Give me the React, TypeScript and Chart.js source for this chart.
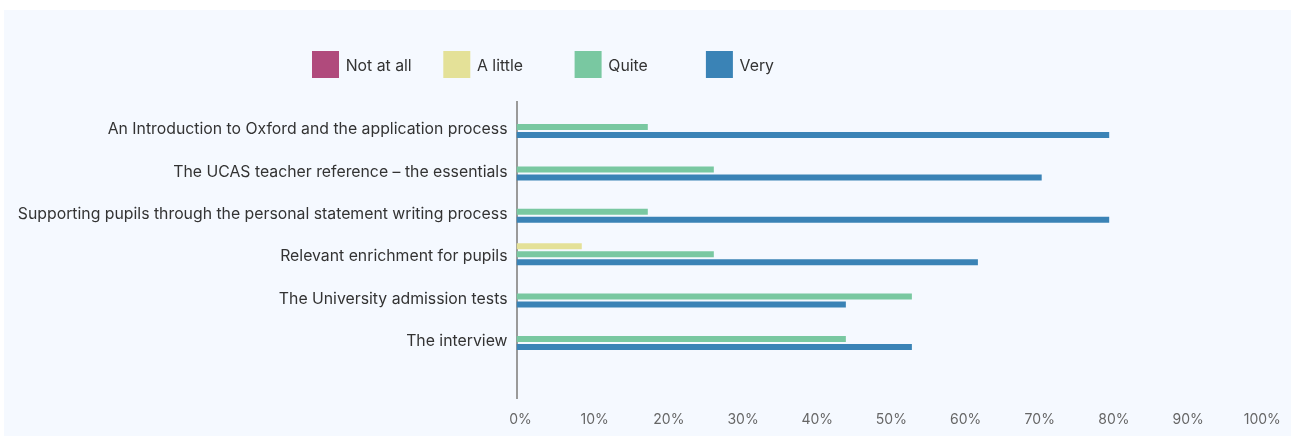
import React, { useEffect, useRef } from "react";
import { Chart, registerables } from "chart.js";

Chart.register(...registerables);

const categories = [
  "An Introduction to Oxford and the application process",
  "The UCAS teacher reference – the essentials",
  "Supporting pupils through the personal statement writing process",
  "Relevant enrichment for pupils",
  "The University admission tests",
  "The interview",
  "",
];

const seriesNames = ["Not at all", "A little", "Quite", "Very"];
const notAtAll = [0, 0, 0, 0, 0, 0, null];
const aLittle = [0, 0, 0, 8.8, 0, 0, null];
const quite = [17.7, 26.6, 17.7, 26.6, 53.3, 44.4, null];
const very = [79.9, 70.8, 79.9, 62.2, 44.4, 53.3, null];
const seriesColors = ["#b04a7c", "#e4e198", "#79c8a1", "#3a83b6"];

const xTicks = [0, 10, 20, 30, 40, 50, 60, 70, 80, 90, 100];

const FONT = "Inter";

const legendPlugin = {
  id: "fixedLegend",
  afterDraw(chart: any) {
    const ctx = chart.ctx;
    ctx.save();
    chart.data.datasets.forEach((ds: any, i: number) => {
      const x = 308 + i * 131.3;
      const y = 41;
      ctx.fillStyle = ds.backgroundColor;
      ctx.fillRect(x, y, 27, 27);
      ctx.fillStyle = "#333333";
      ctx.font = `15.8px ${FONT}`;
      ctx.textBaseline = "middle";
      ctx.textAlign = "left";
      ctx.fillText(ds.label, x + 33.7, y + 15);
    });
    ctx.restore();
  },
};

export default function App() {
  const canvasRef = useRef<HTMLCanvasElement | null>(null);

  useEffect(() => {
    if (!canvasRef.current) return;
    const data = [notAtAll, aLittle, quite, very];
    const chart = new Chart(canvasRef.current, {
      type: "bar",
      data: {
        labels: categories,
        datasets: seriesNames.map((name, i) => ({
          label: name,
          data: data[i] as any,
          backgroundColor: seriesColors[i],
          borderWidth: 0,
          categoryPercentage: 0.755,
          barPercentage: 0.75,
        })),
      },
      options: {
        indexAxis: "y",
        animation: false,
        responsive: false,
        devicePixelRatio: 1,
        layout: { padding: { top: 91.8, right: 32.7, left: 0, bottom: 0 } },
        plugins: {
          legend: { display: false },
          tooltip: { enabled: false },
        },
        scales: {
          y: {
            grid: { display: false, drawTicks: false },
            border: { display: true, color: "#9a9a9a", width: 2 },
            ticks: {
              color: "#333333",
              font: { family: FONT, size: 15.8 },
              padding: 9,
              labelOffset: 6.5,
            },
            afterFit: (s: any) => {
              s.width = 512.5;
            },
          },
          x: {
            min: 0,
            max: 100,
            grid: { display: false, drawTicks: false },
            border: { display: false },
            afterBuildTicks: (s: any) => {
              s.ticks = xTicks.map((v) => ({ value: v }));
            },
            ticks: {
              color: "#666666",
              font: { family: FONT, size: 14 },
              padding: 13,
              labelOffset: 4,
              maxRotation: 0,
              autoSkip: false,
              callback: (v: any) => `${v}%`,
            },
            afterFit: (s: any) => {
              s.height = 37.4;
            },
          },
        },
      },
      plugins: [legendPlugin],
    });
    return () => chart.destroy();
  }, []);

  return (
    <div
      style={{
        position: "fixed",
        left: 0,
        top: 0,
        width: 1291,
        height: 436,
        background: "#ffffff",
        overflow: "hidden",
      }}
    >
      <div
        style={{
          position: "absolute",
          left: 4,
          top: 10,
          width: 1287,
          height: 426,
          background: "#f5f9ff",
        }}
      >
        <canvas
          ref={canvasRef}
          width={1287}
          height={426}
          style={{ display: "block", width: 1287, height: 426 }}
        />
      </div>
    </div>
  );
}
